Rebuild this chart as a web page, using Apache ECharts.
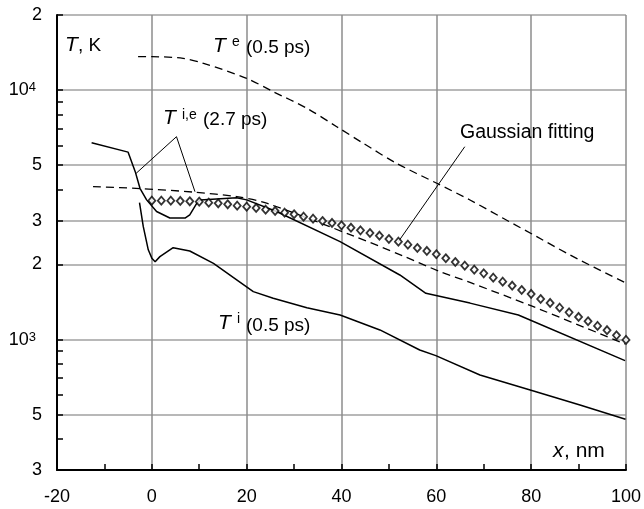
<!DOCTYPE html>
<html>
<head>
<meta charset="utf-8">
<script src="https://cdn.jsdelivr.net/npm/echarts@6/dist/echarts.min.js"></script>
<style>
  html, body { margin: 0; padding: 0; background: #fff; }
  #chart { width: 644px; height: 509px; }
</style>
</head>
<body>
<div id="chart"></div>
<script>
// 温度分布, x in nm, T in K
const elecTemp05 = [[-2.9, 13610], [0, 13610], [6.6, 13410], [10.9, 12800], [20.0, 11150], [25.6, 9855],
  [32.7, 8456], [39.0, 7134], [44.6, 6120], [51.6, 5089], [60.1, 4231], [67.1, 3627], [74.1, 3063],
  [81.2, 2585], [88.2, 2183], [99.8, 1691]];
const elecTemp27 = [[-12.4, 4100], [-2.5, 4030], [9.1, 3895], [17.9, 3740], [24.2, 3520], [42.8, 2590],
  [53.0, 2163], [60.8, 1872], [67.1, 1694], [79.8, 1370], [99.8, 960]];
const ionTemp27 = [[-12.7, 6150], [-5.0, 5640], [-3.5, 4710], [-2.5, 4040], [-1.1, 3630], [1.0, 3260],
  [3.8, 3070], [7.0, 3070], [8.0, 3160], [9.5, 3520], [10.2, 3630], [17.9, 3700], [20.0, 3630],
  [26.3, 3260], [39.7, 2470], [52.3, 1815], [57.8, 1533], [67.1, 1400], [77.3, 1255], [99.8, 823]];
const ionTemp05 = [[-2.6, 3540], [-1.8, 2835], [-0.75, 2290], [0, 2120], [0.7, 2050], [1.7, 2150],
  [4.5, 2335], [8.0, 2265], [13.0, 2020], [17.9, 1735], [21.4, 1556], [25.6, 1464], [32.7, 1342],
  [39.7, 1255], [48.1, 1093], [56.5, 908], [59.9, 862], [69.2, 721], [79.8, 628], [90.3, 547], [99.9, 479]];
// Gaussian fitting (diamonds)
const gaussX = [0, 2, 4, 6, 8, 10, 12, 14, 16, 18, 20, 22, 24, 26, 28, 30, 32, 34, 36, 38, 40, 42, 44, 46, 48,
  50, 52, 54, 56, 58, 60, 62, 64, 66, 68, 70, 72, 74, 76, 78, 80, 82, 84, 86, 88, 90, 92, 94, 96, 98, 100];
const gaussT = [3604, 3604, 3604, 3594, 3584, 3571, 3538, 3518, 3486, 3441, 3410, 3369, 3316, 3277, 3226,
  3179, 3109, 3052, 2987, 2933, 2870, 2808, 2741, 2674, 2608, 2530, 2469, 2401, 2328, 2265, 2198, 2118,
  2046, 1978, 1906, 1843, 1771, 1707, 1644, 1580, 1523, 1454, 1402, 1342, 1286, 1232, 1184, 1134, 1090,
  1040, 997];
// 指引线
const leaderIE = [[-3.3, 4640], [5.2, 6505], [9.1, 3915]];
const leaderGauss = [[66.0, 5930], [52.0, 2469]];
// ticks
const yMajorTicks = [300, 500, 1000, 2000, 3000, 5000, 10000, 20000];
const yTickLabels = ['3', '5', '{b|10}{p|3}', '2', '3', '5', '{b|10}{p|4}', '2'];
const yMinorTicks = [400, 600, 700, 800, 900, 4000, 6000, 7000, 8000, 9000];

const FONT = "'Liberation Sans', Arial, sans-serif";
const chart = echarts.init(document.getElementById('chart'), null, { renderer: 'canvas' });

const lineSeries = (data, dashed, width, smooth) => ({
  type: 'line',
  data: data,
  symbol: 'none',
  silent: true,
  smooth: smooth || false,
  lineStyle: { color: '#000', width: width, type: dashed ? [8, 5] : 'solid' },
  z: 3
});

// 文字标注 (baseline 定位)
const txt = (x, base, text, size, italic) => ({
  type: 'text',
  x: x,
  y: base - 0.33 * size,
  style: {
    text: text,
    fill: '#000',
    font: (italic ? 'italic ' : '') + size + 'px ' + FONT,
    verticalAlign: 'middle',
    align: 'left'
  },
  z: 10
});

const option = {
  animation: false,
  backgroundColor: '#fff',
  grid: { left: 57, right: 18, top: 15, bottom: 39 },
  xAxis: {
    type: 'value',
    min: -20,
    max: 100,
    interval: 20,
    axisLine: { onZero: false, lineStyle: { color: '#000', width: 2 } },
    axisTick: { show: true, inside: true, length: 6, lineStyle: { color: '#000', width: 1.5 } },
    minorTick: { show: true, splitNumber: 2, length: 6, lineStyle: { color: '#000', width: 1.5 } },
    splitLine: { show: true, lineStyle: { color: '#8c8c8c', width: 1.5 } },
    axisLabel: { color: '#000', fontSize: 18, fontFamily: FONT, margin: 18 }
  },
  yAxis: [
    {
      type: 'log',
      logBase: 10,
      min: 300,
      max: 20000,
      axisLine: { onZero: false, lineStyle: { color: '#000', width: 2 } },
      axisTick: { show: true, inside: true, length: 6, customValues: yMajorTicks,
        lineStyle: { color: '#000', width: 1.5 } },
      splitLine: { show: true, lineStyle: { color: '#a0a0a0', width: 1.5 } },
      axisLabel: {
        customValues: yMajorTicks,
        margin: 15,
        color: '#000',
        fontFamily: FONT,
        fontSize: 18,
        formatter: (v) => {
          const i = yMajorTicks.indexOf(Math.round(v));
          return i >= 0 ? yTickLabels[i] : '';
        },
        rich: {
          b: { fontSize: 18, fontFamily: FONT, color: '#000' },
          p: { fontSize: 13, fontFamily: FONT, color: '#000', verticalAlign: 'top', padding: [0, 6, 0, 0] }
        }
      }
    },
    {
      type: 'log',
      logBase: 10,
      min: 300,
      max: 20000,
      position: 'left',
      axisLine: { show: false, onZero: false },
      axisLabel: { show: false },
      splitLine: { show: false },
      axisTick: { show: true, inside: true, length: 6, customValues: yMinorTicks,
        lineStyle: { color: '#000', width: 1.5 } }
    }
  ],
  series: [
    lineSeries(elecTemp05, true, 1.3, 0.3),
    lineSeries(elecTemp27, true, 1.3, 0.3),
    lineSeries(ionTemp27, false, 1.5),
    lineSeries(ionTemp05, false, 1.5),
    lineSeries(leaderIE, false, 1),
    lineSeries(leaderGauss, false, 1),
    {
      type: 'scatter',
      data: gaussX.map((x, i) => [x, gaussT[i]]),
      symbol: 'diamond',
      symbolSize: [7, 8],
      silent: true,
      itemStyle: { color: '#fff', borderColor: '#000', borderWidth: 1.8 },
      z: 5
    }
  ],
  graphic: [
    txt(65, 52, 'T', 21, true),
    txt(78, 52, ', K', 19, false),
    txt(213, 53.5, 'T', 21, true),
    txt(232, 47, 'e', 14, false),
    txt(246, 54, '(0.5 ps)', 19, false),
    txt(163, 125, 'T', 21, true),
    txt(182, 120, 'i,e', 14, false),
    txt(203, 126, '(2.7 ps)', 19, false),
    txt(218, 330, 'T', 21, true),
    txt(237, 323.5, 'i', 14, false),
    txt(246, 332, '(0.5 ps)', 19, false),
    txt(460, 139, 'Gaussian fitting', 19.5, false),
    txt(553, 458, 'x', 21, true),
    txt(564, 458, ', nm', 21, false)
  ]
};

chart.setOption(option);
window.addEventListener('resize', function () {
  chart.resize();
});
</script>
</body>
</html>
